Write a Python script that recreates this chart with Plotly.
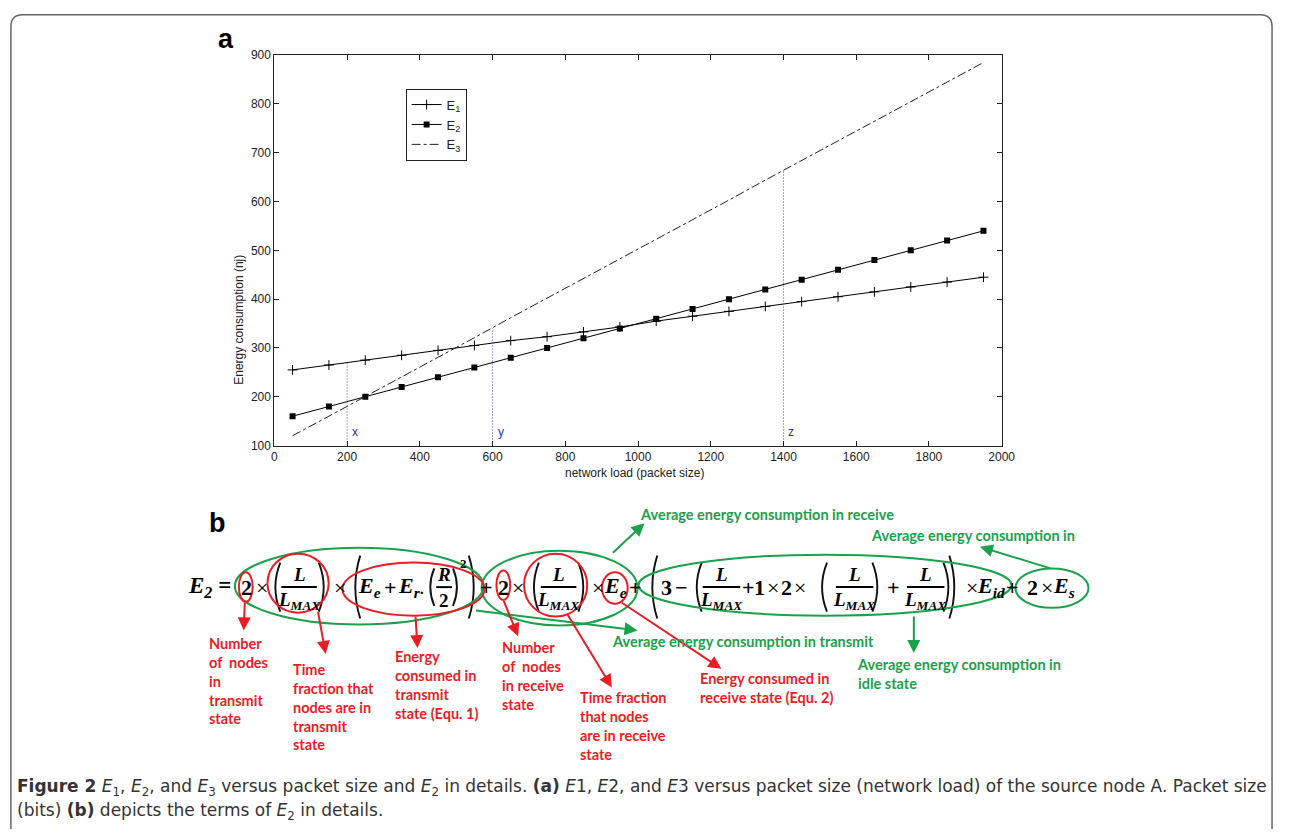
import plotly.graph_objects as go

# ---------------- data ----------------
packet_size = [50, 150, 250, 350, 450, 550, 650, 750, 850, 950,
               1050, 1150, 1250, 1350, 1450, 1550, 1650, 1750, 1850, 1950]
E1 = [255, 265, 275, 285, 295, 305, 315, 323, 333, 343,
      355, 365, 375, 385, 395, 405, 415, 425, 435, 445]
E2 = [160, 180, 200, 220, 240, 260, 280, 300, 320, 340,
      360, 380, 400, 420, 440, 460, 480, 500, 520, 540]
E3 = [120, 160, 201, 241, 281, 321, 362, 402, 442, 483,
      523, 563, 603, 644, 684, 724, 764, 805, 845, 885]
marker_x = [200, 600, 1400]
marker_top = [270, 341, 663]
marker_labels = ["x", "y", "z"]
x_ticks = [0, 200, 400, 600, 800, 1000, 1200, 1400, 1600, 1800, 2000]
y_ticks = [100, 200, 300, 400, 500, 600, 700, 800, 900]

W, H = 1290, 836
def px(x): return x / W
def py(y): return 1 - y / H

SERIF = "Liberation Serif, DejaVu Serif, serif"
SANS = "Lato, Open Sans, sans-serif"
ARIAL = "Arial, Liberation Sans, sans-serif"
GREEN = "#1ba14b"
RED = "#ec1c24"

fig = go.Figure()
fig.add_trace(go.Scatter(x=packet_size, y=E1, mode="lines+markers", name="E<sub>1</sub>",
                         line=dict(color="black", width=1),
                         marker=dict(symbol="cross-thin", size=7, line=dict(color="black", width=1))))
fig.add_trace(go.Scatter(x=packet_size, y=E2, mode="lines+markers", name="E<sub>2</sub>",
                         line=dict(color="black", width=1),
                         marker=dict(symbol="square", size=6, color="black")))
fig.add_trace(go.Scatter(x=packet_size, y=E3, mode="lines", name="E<sub>3</sub>",
                         line=dict(color="#222", width=1, dash="dashdot")))
for mx, mt, ml in zip(marker_x, marker_top, marker_labels):
    fig.add_trace(go.Scatter(x=[mx, mx], y=[100, mt], mode="lines", showlegend=False,
                             line=dict(color="#4848b8", width=1, dash="1px,2px"), hoverinfo="skip"))

ann = []
shapes = []

for mx, ml in zip(marker_x, marker_labels):
    ann.append(dict(x=mx + 22, y=127, xref="x", yref="y", text=ml, showarrow=False,
                    font=dict(family=ARIAL, size=12, color="#3030a0")))

def T(x, y, text, size=22, color="black", family=SERIF, xanchor="center"):
    ann.append(dict(x=px(x), y=py(y), xref="paper", yref="paper", text=text, showarrow=False,
                    xanchor=xanchor, yanchor="middle", font=dict(family=family, size=size, color=color)))

# panel labels
T(216, 33, "<b>a</b>", 27, "black", ARIAL, "left")
T(207, 525, "<b>b</b>", 27, "black", ARIAL, "left")

# axis titles
ann.append(dict(x=px(230), y=py(250), xref="paper", yref="paper", text="Energy consumption (nj)",
                showarrow=False, textangle=-90, font=dict(family=ARIAL, size=12, color="#222")))
T(640, 474, "network load (packet size)", 12, "#222", ARIAL)

# ---------------- equation ----------------
EQY = 590
def B(s): return "<b>" + s + "</b>"
def BI(s): return "<b><i>" + s + "</i></b>"

def paren(x, s, size):
    # thin drawn parenthesis: size = full height in px
    h = size / 2
    w = 4 if size < 50 else 5
    if s == "(":
        xa, xc = x + w, x - w
    else:
        xa, xc = x - w, x + w
    path = f"M {px(xa)} {py(EQY - h)} Q {px(xc)} {py(EQY)} {px(xa)} {py(EQY + h)}"
    shapes.append(dict(type="path", xref="paper", yref="paper", path=path,
                       line=dict(color="#111", width=1.9)))

def frac(xc, num, den, w, size=19):
    T(xc, EQY - 13, num, size)
    T(xc, EQY + 14, den, size)
    shapes.append(dict(type="line", xref="paper", yref="paper",
                       x0=px(xc - w / 2), x1=px(xc + w / 2), y0=py(EQY), y1=py(EQY),
                       line=dict(color="black", width=2)))

LMAX = BI("L<sub>MAX</sub>")
T(233, EQY, BI("E<sub>2</sub>") + " <b>=</b>", 23, xanchor="right")
T(247, EQY, B("2"))
T(262, EQY, "×")
paren(276, "(", 50); frac(300, BI("L"), LMAX, 36); paren(325, ")", 50)
T(342, EQY, "×")
paren(357, "(", 64)
T(371, EQY, BI("E<sub>e</sub>"))
T(393, EQY, B("+"))
T(413, EQY, BI("E<sub>r·</sub>"))
paren(433, "(", 38); frac(447, BI("R"), B("2"), 16, 19); paren(460, ")", 38)
T(467, 566, B("2"), 13)
paren(477, ")", 64)
T(490, EQY, B("+"))
T(507, EQY, B("2"))
T(522, EQY, "×")
paren(538, "(", 50); frac(563, BI("L"), LMAX, 36); paren(588, ")", 50)
T(603, EQY, "×")
T(621, EQY, BI("E<sub>e</sub>"))
T(641, EQY, B("+"))
paren(658, "(", 64)
T(672, EQY, B("3"))
T(688, EQY, B("−"))
paren(703, "(", 50); frac(728, BI("L"), LMAX, 38)
T(755, EQY, B("+"))
T(767, EQY, B("1"))
T(780, EQY, "×")
T(794, EQY, B("2"))
T(808, EQY, "×")
paren(830, "(", 50); frac(863, BI("L"), LMAX, 38); paren(886, ")", 50)
T(902, EQY, B("+"))
frac(935, BI("L"), LMAX, 38)
paren(958, ")", 50)
paren(964, ")", 64)
T(982, EQY, "×")
T(1001, EQY, BI("E<sub>id</sub>"))
T(1023, EQY, B("+"))
T(1043, EQY, B("2"))
T(1058, EQY, "×")
T(1075, EQY, BI("E<sub>s</sub>"))

def ellipse(cx, cy, rx, ry, color):
    shapes.append(dict(type="circle", xref="paper", yref="paper",
                       x0=px(cx - rx), x1=px(cx + rx), y0=py(cy + ry), y1=py(cy - ry),
                       line=dict(color=color, width=2)))

ellipse(361, 589, 126, 39, GREEN)
ellipse(564, 591, 79, 38, GREEN)
ellipse(833, 588, 189, 31, GREEN)
ellipse(1063, 591, 37, 20, GREEN)
ellipse(246, 590, 7, 15, RED)
ellipse(299, 586, 31, 30, RED)
ellipse(416, 592, 72, 27, RED)
ellipse(507, 588, 7, 15, RED)
ellipse(560, 588, 32, 32, RED)
ellipse(620, 591, 13, 16, RED)

def arrow(x0, y0, x1, y1, color):
    ann.append(dict(x=px(x1), y=py(y1), xref="paper", yref="paper", ax=x0 - x1, ay=y0 - y1,
                    axref="pixel", ayref="pixel", text="", showarrow=True,
                    arrowhead=2, arrowsize=1.3, arrowwidth=2, arrowcolor=color))

# green arrows
arrow(617, 556, 650, 525, GREEN)
arrow(1062, 571, 990, 549, GREEN)
arrow(480, 614, 643, 634, GREEN)
arrow(923, 619, 923, 657, GREEN)
# red arrows
arrow(245, 605, 244, 634, RED)
arrow(319, 614, 327, 658, RED)
arrow(418, 619, 420, 652, RED)
arrow(507, 603, 522, 640, RED)
arrow(572, 618, 617, 692, RED)
arrow(627, 606, 728, 673, RED)

def label(x, ytop, lines, color):
    T(x, ytop + (len(lines) - 1) * 10, "<b>" + "<br>".join(lines) + "</b>", 14.5, color, SANS, "left")
    ann[-1]["align"] = "left"

label(643, 516, ["Average energy consumption in receive"], GREEN)
label(878, 537, ["Average energy consumption in"], GREEN)
label(615, 645, ["Average energy consumption in transmit"], GREEN)
label(863, 668, ["Average energy consumption in", "idle state"], GREEN)
label(207, 645, ["Number", "of  nodes", "in", "transmit", "state"], RED)
label(292, 672, ["Time", "fraction that", "nodes are in", "transmit", "state"], RED)
label(395, 660, ["Energy", "consumed in", "transmit", "state (Equ. 1)"], RED)
label(504, 650, ["Number", "of  nodes", "in receive", "state"], RED)
label(583, 701, ["Time fraction", "that nodes", "are in receive", "state"], RED)
label(704, 683, ["Energy consumed in", "receive state (Equ. 2)"], RED)

# caption
CAP = "DejaVu Sans, sans-serif"
T(12, 794, "<b>Figure 2</b> <i>E</i><sub>1</sub>, <i>E</i><sub>2</sub>, and <i>E</i><sub>3</sub> versus packet size and "
    "<i>E</i><sub>2</sub> in details. <b>(a)</b> <i>E</i>1, <i>E</i>2, and <i>E</i>3 versus packet size "
    "(network load) of the source node A. Packet size", 17, "#333", CAP, "left")
T(12, 818, "(bits) <b>(b)</b> depicts the terms of <i>E</i><sub>2</sub> in details.", 17, "#333", CAP, "left")

# frame
fx0, fy0, fx1, fy1, r = 8, 8, 1286, 836, 12
path = (f"M {px(fx0)} {py(fy1)} L {px(fx0)} {py(fy0 + r)} Q {px(fx0)} {py(fy0)} {px(fx0 + r)} {py(fy0)} "
        f"L {px(fx1 - r)} {py(fy0)} Q {px(fx1)} {py(fy0)} {px(fx1)} {py(fy0 + r)} L {px(fx1)} {py(fy1)}")
shapes.append(dict(type="path", xref="paper", yref="paper", path=path,
                   line=dict(color="#666", width=1.5)))

axis_common = dict(showline=True, linecolor="#222", linewidth=1, mirror="ticks", ticks="inside",
                   ticklen=5, tickcolor="#222", showgrid=False, zeroline=False,
                   tickfont=dict(family=ARIAL, size=12, color="#222"))

fig.update_layout(
    width=W, height=H, margin=dict(l=0, r=0, t=0, b=0),
    paper_bgcolor="white", plot_bgcolor="white",
    xaxis=dict(range=[0, 2000], tickvals=x_ticks, domain=[px(275), px(1012)], **axis_common),
    yaxis=dict(range=[100, 900], tickvals=y_ticks, domain=[py(446), py(49)], **axis_common),
    legend=dict(x=px(408), y=py(83), xanchor="left", yanchor="top", bgcolor="white",
                bordercolor="#222", borderwidth=1, font=dict(family=ARIAL, size=13, color="#222"),
                itemwidth=30),
    annotations=ann, shapes=shapes, showlegend=True,
)
post = ("var gd=document.getElementById('{plot_id}');"
        "document.body.style.margin='0px';document.body.style.overflow='hidden';"
        "gd.style.position='fixed';gd.style.left='0px';gd.style.top='0px';")
fig.write_html("out.html", config={"displayModeBar": False}, post_script=post)
